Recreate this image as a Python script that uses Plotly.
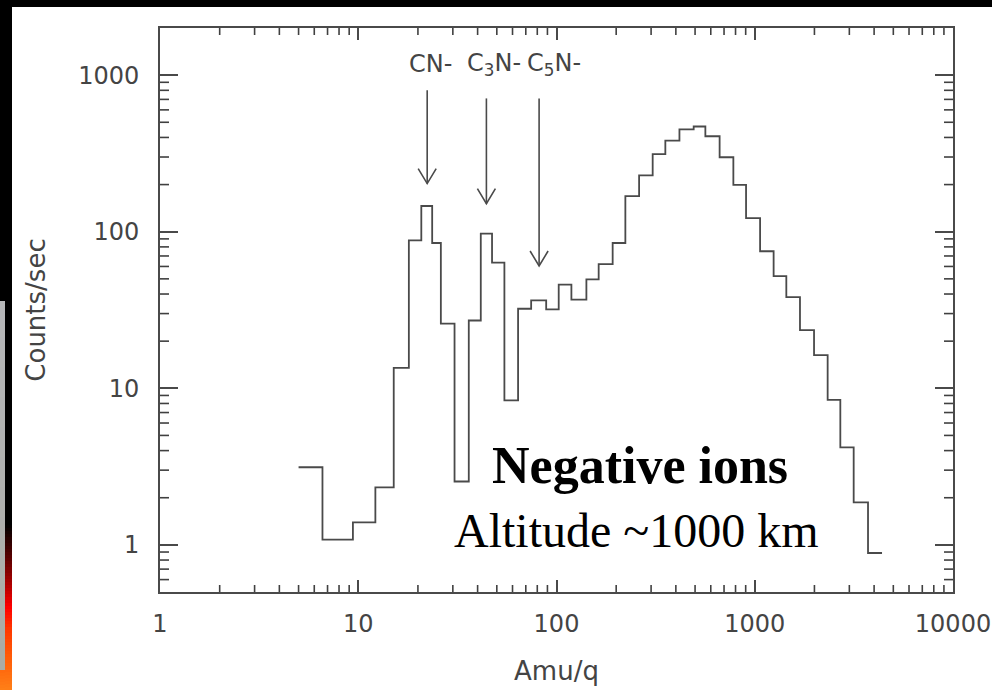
import numpy as np
import plotly.graph_objects as go

# Mass channel boundaries (amu/q) and count rate in each channel
edges = [5.0, 6.6, 9.4, 12.2, 15.1, 18.0, 20.8, 23.6, 26.1, 30.6, 36.1, 41.5,
         47.3, 54.6, 64.0, 74.5, 88.7, 102.6, 118.9, 141.5, 163.2, 192.0,
         222.5, 261.0, 305.6, 354.0, 417.0, 492.0, 563.5, 665.0, 780.0, 904.0,
         1064.0, 1245.0, 1443.0, 1691.0, 1991.0, 2332.0, 2702.0, 3155.0,
         3727.0, 4385.0]
counts = [3.13, 1.08, 1.39, 2.33, 13.5, 88.1, 146.0, 84.7, 25.9, 2.54, 27.1,
          97.2, 63.5, 8.36, 32.2, 36.4, 31.9, 45.9, 36.8, 49.6, 62.1, 84.7,
          169.0, 229.0, 313.0, 382.0, 450.0, 470.0, 407.0, 299.0, 199.0, 122.0,
          75.0, 52.0, 38.2, 23.5, 16.3, 8.44, 4.20, 1.87, 0.887]

# Identified ion species: arrow mass, arrow tip / tail heights, label centre
ion_labels = ["CN-", "C<sub>3</sub>N-", "C<sub>5</sub>N-"]
ion_mass = [22.27, 44.3, 81.7]
arrow_tip = [203.0, 151.0, 60.4]
arrow_tail = [802.0, 710.0, 710.0]
label_mass = [23.05, 48.3, 97.6]
label_level = 1170.0

x_tickvals = [1, 10, 100, 1000, 10000]
x_ticktext = ["1", "10", "100", "1000", "10000"]
y_tickvals = [1, 10, 100, 1000]
y_ticktext = ["1", "10", "100", "1000"]
minor_digits = [2, 3, 4, 5, 6, 7, 8, 9]
decades = [0.1, 1.0, 10.0, 100.0, 1000.0]

W, H = 992, 690
M = dict(l=160, r=39, t=28, b=98)
PW = W - M["l"] - M["r"]
PH = H - M["t"] - M["b"]
X_LIM = [1.0, 10000.0]
Y_LIM = [0.5, 2000.0]
X_RANGE = [float(np.log10(v)) for v in X_LIM]
Y_RANGE = [float(np.log10(v)) for v in Y_LIM]
X_PPD = PW / (X_RANGE[1] - X_RANGE[0])   # pixels per decade
Y_PPD = PH / (Y_RANGE[1] - Y_RANGE[0])


def px(x):
    return (x - M["l"]) / PW


def py(y):
    return (H - M["b"] - y) / PH


GREY = "#4a4a4a"
TXT = "#444444"
FONT = "DejaVu Sans"

fig = go.Figure()

# step histogram
fig.add_trace(go.Scatter(
    x=edges, y=counts + [counts[-1]], mode="lines",
    line=dict(shape="hv", color=GREY, width=1.8),
    showlegend=False, hoverinfo="skip"))

# arrows: shaft plus open V head, head size expressed in decades
head_dx = 10 ** (9 / X_PPD)
head_dy = 10 ** (15 / Y_PPD)
ax_x, ax_y = [], []
for m, tip, tail in zip(ion_mass, arrow_tip, arrow_tail):
    ax_x += [m, m, None, m / head_dx, m, m * head_dx, None]
    ax_y += [tail, tip, None, tip * head_dy, tip, tip * head_dy, None]
fig.add_trace(go.Scatter(
    x=ax_x, y=ax_y, mode="lines", line=dict(color=GREY, width=1.6),
    showlegend=False, hoverinfo="skip", connectgaps=False))

# minor log ticks (2..9 in every decade) drawn inward from all four sides
minor_vals = [d * m for d in decades for m in minor_digits]
x_minor = [v for v in minor_vals if X_LIM[0] < v < X_LIM[1]]
y_minor = [v for v in minor_vals if Y_LIM[0] < v < Y_LIM[1]]
fx = 10 ** (7 / Y_PPD)    # x-axis minor tick length, as a factor in y
fy = 10 ** (9 / X_PPD)    # y-axis minor tick length, as a factor in x
tx, ty = [], []
for v in x_minor:
    tx += [v, v, None, v, v, None]
    ty += [Y_LIM[0], Y_LIM[0] * fx, None, Y_LIM[1], Y_LIM[1] / fx, None]
for v in y_minor:
    tx += [X_LIM[0], X_LIM[0] * fy, None, X_LIM[1], X_LIM[1] / fy, None]
    ty += [v, v, None, v, v, None]
fig.add_trace(go.Scatter(
    x=tx, y=ty, mode="lines", line=dict(color="#404040", width=1.6),
    showlegend=False, hoverinfo="skip", connectgaps=False, cliponaxis=True))

axis_common = dict(
    type="log", showgrid=False, zeroline=False,
    showline=True, linecolor=GREY, linewidth=1.8, mirror="allticks",
    ticks="inside", tickcolor=GREY, tickwidth=1.5,
    tickfont=dict(family=FONT, size=24, color=TXT),
    tickmode="array",
)

fig.update_layout(
    xaxis=dict(
        **axis_common, range=X_RANGE, ticklen=12,
        tickvals=x_tickvals, ticktext=x_ticktext, ticklabelstandoff=9,
        title=dict(text="Amu/q", font=dict(family=FONT, size=26, color=TXT),
                   standoff=25),
    ),
    yaxis=dict(
        **axis_common, range=Y_RANGE, ticklen=18,
        tickvals=y_tickvals, ticktext=y_ticktext, ticklabelstandoff=14,
        title=dict(text="Counts/sec", font=dict(family=FONT, size=26, color=TXT),
                   standoff=25),
    ),
)

annotations = []
for lab, lx in zip(ion_labels, label_mass):
    annotations.append(dict(
        x=float(np.log10(lx)), y=float(np.log10(label_level)),
        xref="x", yref="y",
        text=lab, showarrow=False, xanchor="center", yanchor="middle",
        font=dict(family=FONT, size=24, color=TXT)))

annotations.append(dict(
    x=2.4216, y=0.510, xref="x", yref="y", text="<b>Negative ions</b>",
    showarrow=False, xanchor="center", yanchor="middle",
    font=dict(family="Liberation Serif", size=52, color="black")))
annotations.append(dict(
    x=2.402, y=0.091, xref="x", yref="y", text="Altitude ~1000 km",
    showarrow=False, xanchor="center", yanchor="middle",
    font=dict(family="Liberation Serif", size=48, color="black")))

# Slide frame: black bands along the top and left edges with a coloured strip
shapes = []


def rect(x0, y0, x1, y1, color):
    shapes.append(dict(type="rect", xref="paper", yref="paper",
                       x0=px(x0), x1=px(x1), y0=py(y1), y1=py(y0),
                       fillcolor=color, line=dict(width=0), layer="above"))


rect(0, 0, W, 7, "black")
rect(0, 0, 12, H, "black")

stops = [(525, (0, 0, 0)), (560, (96, 0, 0)), (585, (176, 0, 0)),
         (607, (255, 0, 0)), (630, (255, 58, 0)), (655, (255, 90, 8)),
         (690, (255, 128, 24))]
ys = [s[0] for s in stops]
for y in range(525, 690, 3):
    c = [int(np.interp(y + 1.5, ys, [s[1][i] for s in stops])) for i in range(3)]
    rect(5, y, 12, y + 3, "rgb(%d,%d,%d)" % tuple(c))
for y in range(670, 690, 3):
    c = [int(np.interp(y + 1.5, ys, [s[1][i] for s in stops])) for i in range(3)]
    rect(0, y, 5, y + 3, "rgb(%d,%d,%d)" % tuple(c))
for y in range(301, 670, 6):
    t = (y - 301) / 369
    g = [int(182 - 12 * t), int(183 - 12 * t), int(185 - 20 * t)]
    rect(0, y, 5, min(y + 6, 670), "rgb(%d,%d,%d)" % tuple(g))

fig.update_layout(
    width=W, height=H, margin=dict(**M, autoexpand=False),
    paper_bgcolor="white", plot_bgcolor="white",
    annotations=annotations, shapes=shapes, showlegend=False,
)

fig.write_html("out.html")
